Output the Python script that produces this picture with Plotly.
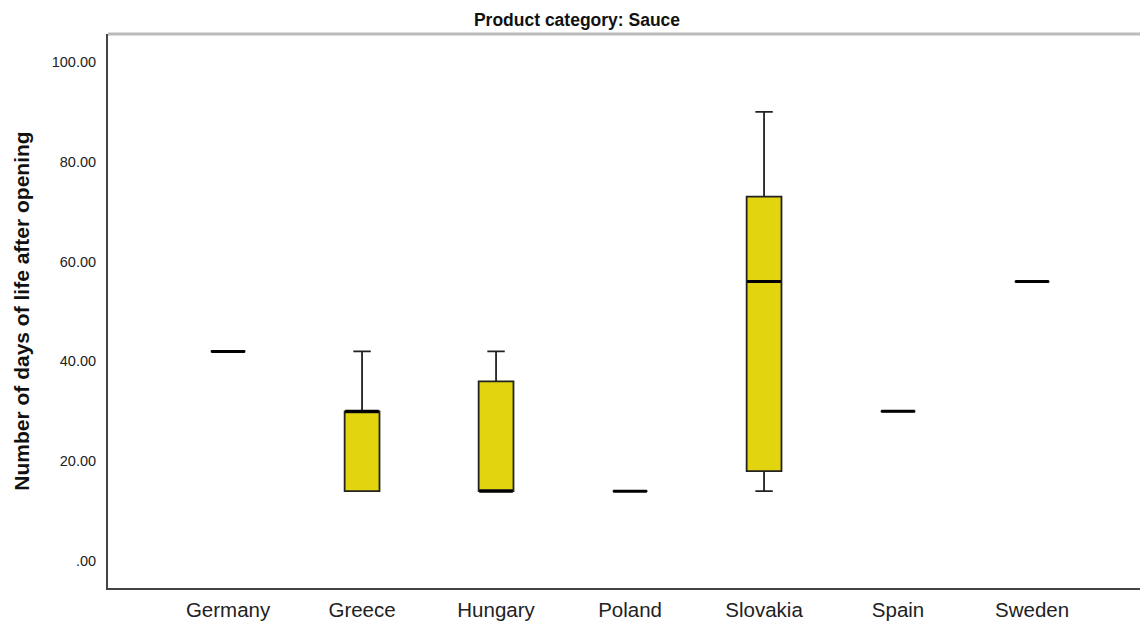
import plotly.graph_objects as go

countries = ["Germany", "Greece", "Hungary", "Poland", "Slovakia", "Spain", "Sweden"]
lower_whisker = [42, 14, 14, 14, 14, 30, 56]
q1_vals = [42, 14, 14, 14, 18, 30, 56]
medians = [42, 30, 14, 14, 56, 30, 56]
q3_vals = [42, 30, 36, 14, 73, 30, 56]
upper_whisker = [42, 42, 42, 14, 90, 30, 56]

y_tickvals = [0, 20, 40, 60, 80, 100]
y_ticktext = [".00", "20.00", "40.00", "60.00", "80.00", "100.00"]

fig = go.Figure()
fig.add_trace(go.Box(
    x=countries,
    q1=q1_vals, median=medians, q3=q3_vals,
    lowerfence=lower_whisker, upperfence=upper_whisker,
    fillcolor="#E2D50F",
    line=dict(color="#222222", width=1.8),
    width=0.26,
    whiskerwidth=0.5,
    boxpoints=False,
    showlegend=False,
    hoverinfo="skip",
))
fig.add_trace(go.Scatter(
    x=countries, y=medians, mode="markers",
    marker=dict(symbol="line-ew", size=24, line=dict(color="#000000", width=3)),
    showlegend=False, hoverinfo="skip",
))

fig.update_layout(
    width=1148, height=624,
    margin=dict(l=100, r=0, t=26, b=44),
    plot_bgcolor="white", paper_bgcolor="white",
    font=dict(family="Arial, Liberation Sans, sans-serif", color="#222"),
    title=dict(text="<b>Product category: Sauce</b>", x=(577 - 8) / 1148, xanchor="center",
               xref="container", y=1 - 12 / 624, yanchor="middle",
               font=dict(size=17.5, color="#111")),
    xaxis=dict(type="category", range=[-0.896, 6.925], showgrid=False,
               showline=True, linecolor="#444", linewidth=2, ticks="",
               ticklabelstandoff=2,
               tickfont=dict(size=20.5, color="#222"), zeroline=False),
    yaxis=dict(range=[-5.4, 105.6], tickvals=y_tickvals, ticktext=y_ticktext,
               showgrid=False, zeroline=False, showline=True, linecolor="#444",
               linewidth=2, ticks="", tickfont=dict(size=14.5, color="#222"),
               ticklabelstandoff=7,
               title=dict(text="<b>Number of days of life after opening</b>",
                          font=dict(size=21, color="#111"), standoff=16)),
    shapes=[dict(type="line", xref="paper", yref="paper", x0=0, x1=1, y0=1, y1=1,
                 line=dict(color="#bbbbbb", width=3))],
)

fig.write_html("out.html")
